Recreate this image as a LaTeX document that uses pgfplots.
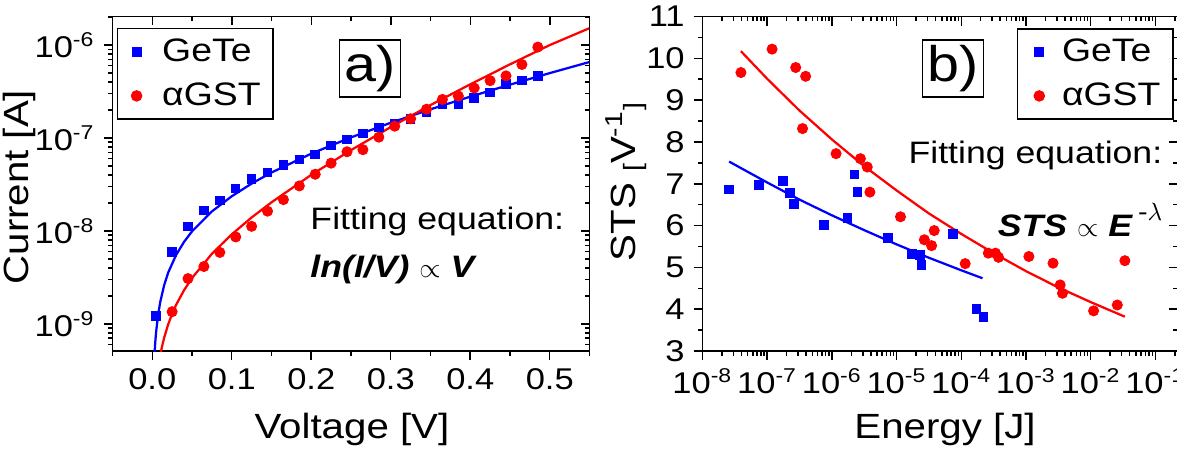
\documentclass[border=0pt]{standalone}
\usepackage{fontspec}
\setmainfont{Liberation Sans}[FakeStretch=1.15]
\usepackage{pgfplots}
\pgfplotsset{compat=1.18}
\definecolor{myblue}{RGB}{0,0,255}
\definecolor{myred}{RGB}{255,0,0}

\newcommand{\sps}[1]{\textsuperscript{#1}}
\newcommand{\lblfont}{\fontsize{14}{16}\selectfont}
\newcommand{\smallprop}{{\fontsize{10.5}{12}\selectfont$\propto$}}

\pgfplotsset{
  mybase/.style={
    scale only axis,
    axis line style={line width=0.7pt},
    every tick/.style={line width=0.6pt, black},
    major tick length=3.6pt, minor tick length=1.9pt,
    /pgf/number format/assume math mode=true,
    ticklabel style={font=\fontsize{12}{14}\selectfont},
  },
  mylegend/.style={
    legend style={at={(axis description cs:#1,0.9656)}, anchor=north west,
      draw=black, line width=0.6pt, fill=white,
      font=\fontsize{13}{15}\selectfont, inner xsep=3pt, inner ysep=2pt,
      row sep=3pt, cells={anchor=west}},
  },
  getemark/.style={only marks, mark=square*, mark size=1.7pt, color=myblue},
  gstmark/.style={only marks, mark=*, mark size=2pt, color=myred},
}

\begin{document}
\begin{tikzpicture}
% ---------------- panel a (top/right inward ticks) ----------------
\begin{axis}[mybase, at={(45pt,43.6pt)}, anchor=south west, width=190.8pt, height=133.8pt,
    xmin=-0.05, xmax=0.55, ymode=log, ymin=5.1e-10, ymax=2.03e-6,
    xtick={0,0.1,0.2,0.3,0.4,0.5},
    minor xtick={-0.05,0.05,0.15,0.25,0.35,0.45,0.55},
    ytick={1e-9,1e-8,1e-7,1e-6},
    minor ytick={6e-10,7e-10,8e-10,9e-10,2e-9,3e-9,4e-9,5e-9,6e-9,7e-9,8e-9,9e-9,
      2e-8,3e-8,4e-8,5e-8,6e-8,7e-8,8e-8,9e-8,2e-7,3e-7,4e-7,5e-7,6e-7,7e-7,8e-7,9e-7,2e-6},
    tick align=inside, xtick pos=right, ytick pos=right,
    xticklabels={}, yticklabels={}]
\end{axis}
% ---------------- panel a main ----------------
\begin{axis}[mybase, at={(45pt,43.6pt)}, anchor=south west, width=190.8pt, height=133.8pt,
    xmin=-0.05, xmax=0.55, ymode=log, ymin=5.1e-10, ymax=2.03e-6,
    xtick={0,0.1,0.2,0.3,0.4,0.5},
    minor xtick={-0.05,0.05,0.15,0.25,0.35,0.45,0.55},
    ytick={1e-9,1e-8,1e-7,1e-6},
    minor ytick={6e-10,7e-10,8e-10,9e-10,2e-9,3e-9,4e-9,5e-9,6e-9,7e-9,8e-9,9e-9,
      2e-8,3e-8,4e-8,5e-8,6e-8,7e-8,8e-8,9e-8,2e-7,3e-7,4e-7,5e-7,6e-7,7e-7,8e-7,9e-7,2e-6},
    tick align=outside, xtick pos=left, ytick pos=left,
    xticklabels={0.0,0.1,0.2,0.3,0.4,0.5},
    yticklabels={10\sps{-9},10\sps{-8},10\sps{-7},10\sps{-6}},
    xlabel={Voltage [V]}, ylabel={Current [A]},
    every axis x label/.style={at={(axis description cs:0.502,-0.236)}, anchor=center, font=\lblfont},
    every axis y label/.style={at={(axis description cs:-0.196,0.49)}, rotate=90, anchor=center, font=\lblfont},
    mylegend=0.0094,
    legend image code/.code={\draw[#1] plot coordinates {(0.16cm,0cm)}; \path[draw=none,fill=none] (0cm,0cm) (0.45cm,0cm);},
]
\addplot[getemark] coordinates {
(0.005,1.21e-9) (0.025,5.93e-9) (0.045,1.12e-8) (0.065,1.66e-8) (0.085,2.13e-8)
(0.105,2.85e-8) (0.125,3.60e-8) (0.145,4.25e-8) (0.165,5.14e-8) (0.185,5.87e-8)
(0.205,6.65e-8) (0.225,8.26e-8) (0.245,9.68e-8) (0.265,1.12e-7) (0.285,1.29e-7)
(0.305,1.44e-7) (0.325,1.61e-7) (0.345,1.91e-7) (0.365,2.28e-7) (0.385,2.28e-7)
(0.405,2.71e-7) (0.425,3.07e-7) (0.445,3.81e-7) (0.465,4.18e-7) (0.485,4.66e-7)};
\addlegendentry{GeTe}
\addplot[gstmark] coordinates {
(0.025,1.35e-9) (0.045,3.07e-9) (0.065,4.14e-9) (0.085,5.87e-9) (0.105,8.61e-9)
(0.125,1.12e-8) (0.145,1.63e-8) (0.165,2.17e-8) (0.185,3.05e-8) (0.205,4.07e-8)
(0.225,5.36e-8) (0.245,7.11e-8) (0.265,7.48e-8) (0.285,1.02e-7) (0.305,1.34e-7)
(0.325,1.61e-7) (0.345,2.04e-7) (0.365,2.60e-7) (0.385,2.83e-7) (0.405,3.45e-7)
(0.425,4.14e-7) (0.445,4.66e-7) (0.465,6.18e-7) (0.485,9.51e-7)};
\addlegendentry{αGST}
\addplot[myblue, line width=0.9pt, forget plot] coordinates {
(0.0015,2.48e-10) (0.002,3.32e-10) (0.003,5.0e-10) (0.004,6.70e-10) (0.005,8.40e-10)
(0.0075,1.27e-9) (0.01,1.71e-9) (0.015,2.61e-9) (0.02,3.55e-9) (0.03,5.51e-9)
(0.04,7.62e-9) (0.05,9.88e-9) (0.075,1.62e-8) (0.1,2.36e-8) (0.125,3.23e-8)
(0.15,4.25e-8) (0.2,6.78e-8) (0.25,1.015e-7) (0.3,1.458e-7) (0.35,2.036e-7)
(0.4,2.785e-7) (0.45,3.75e-7) (0.5,4.99e-7) (0.55,6.57e-7)};
\addplot[myred, line width=0.9pt, forget plot] coordinates {
(0.008,3.58e-10) (0.01,4.55e-10) (0.012,5.55e-10) (0.015,7.10e-10) (0.02,9.84e-10)
(0.025,1.28e-9) (0.03,1.60e-9) (0.04,2.30e-9) (0.05,3.11e-9) (0.075,5.67e-9)
(0.1,9.18e-9) (0.125,1.395e-8) (0.15,2.03e-8) (0.2,4.01e-8) (0.25,7.40e-8)
(0.3,1.311e-7) (0.35,2.26e-7) (0.4,3.78e-7) (0.45,6.2e-7) (0.5,1.0e-6) (0.55,1.52e-6)};
\node[draw=black, line width=0.6pt, inner sep=2pt, font=\fontsize{20}{22}\selectfont]
  at (axis description cs:0.54,0.8445) {a)};
\node[anchor=west, font=\fontsize{12.4}{14}\selectfont, inner sep=0pt]
  at (axis description cs:0.414,0.3857) {Fitting equation:};
\node[anchor=west, font=\fontsize{12.4}{14}\selectfont, inner sep=0pt]
  at (axis description cs:0.414,0.2422) {\textbf{\textit{ln(I/V)}} \smallprop\ \textbf{\textit{V}}};
\end{axis}

% ---------------- panel b (top/right inward ticks) ----------------
\begin{axis}[mybase, at={(281pt,43.6pt)}, anchor=south west, width=190.2pt, height=133.8pt,
    xmode=log, xmin=1e-8, xmax=0.224, ymin=3, ymax=11,
    xtick={1e-8,1e-7,1e-6,1e-5,1e-4,1e-3,1e-2,1e-1},
    minor xtick={2e-8,3e-8,4e-8,5e-8,6e-8,7e-8,8e-8,9e-8,2e-7,3e-7,4e-7,5e-7,6e-7,7e-7,8e-7,9e-7,
      2e-6,3e-6,4e-6,5e-6,6e-6,7e-6,8e-6,9e-6,2e-5,3e-5,4e-5,5e-5,6e-5,7e-5,8e-5,9e-5,
      2e-4,3e-4,4e-4,5e-4,6e-4,7e-4,8e-4,9e-4,2e-3,3e-3,4e-3,5e-3,6e-3,7e-3,8e-3,9e-3,
      2e-2,3e-2,4e-2,5e-2,6e-2,7e-2,8e-2,9e-2,2e-1},
    ytick={3,4,5,6,7,8,9,10,11},
    minor ytick={3.5,4.5,5.5,6.5,7.5,8.5,9.5,10.5},
    tick align=inside, xtick pos=right, ytick pos=right,
    xticklabels={}, yticklabels={}]
\end{axis}
% ---------------- panel b main ----------------
\begin{axis}[mybase, at={(281pt,43.6pt)}, anchor=south west, width=190.2pt, height=133.8pt,
    xmode=log, xmin=1e-8, xmax=0.224, ymin=3, ymax=11,
    xtick={1e-8,1e-7,1e-6,1e-5,1e-4,1e-3,1e-2,1e-1},
    minor xtick={2e-8,3e-8,4e-8,5e-8,6e-8,7e-8,8e-8,9e-8,2e-7,3e-7,4e-7,5e-7,6e-7,7e-7,8e-7,9e-7,
      2e-6,3e-6,4e-6,5e-6,6e-6,7e-6,8e-6,9e-6,2e-5,3e-5,4e-5,5e-5,6e-5,7e-5,8e-5,9e-5,
      2e-4,3e-4,4e-4,5e-4,6e-4,7e-4,8e-4,9e-4,2e-3,3e-3,4e-3,5e-3,6e-3,7e-3,8e-3,9e-3,
      2e-2,3e-2,4e-2,5e-2,6e-2,7e-2,8e-2,9e-2,2e-1},
    ytick={3,4,5,6,7,8,9,10,11},
    minor ytick={3.5,4.5,5.5,6.5,7.5,8.5,9.5,10.5},
    tick align=outside, xtick pos=left, ytick pos=left,
    xticklabels={10\sps{-8},10\sps{-7},10\sps{-6},10\sps{-5},10\sps{-4},10\sps{-3},10\sps{-2},10\sps{-1}},
    yticklabels={3,4,5,6,7,8,9,10,11},
    xlabel={Energy [J]},
    ylabel={STS \raisebox{-0.3ex}{\fontsize{10}{12}\selectfont[}V\sps{-1}\raisebox{-0.3ex}{\fontsize{10}{12}\selectfont]}},
    every axis x label/.style={at={(axis description cs:0.51,-0.236)}, anchor=center, font=\lblfont},
    every axis y label/.style={at={(axis description cs:-0.161,0.505)}, rotate=90, anchor=center, font=\lblfont},
    mylegend=0.661,
    legend image code/.code={\draw[#1] plot coordinates {(0.2cm,0cm)}; \path[draw=none,fill=none] (0cm,0cm) (0.45cm,0cm);},
]
\addplot[getemark] coordinates {
(2.58e-8,6.86) (7.52e-8,6.97) (1.77e-7,7.06) (2.25e-7,6.78) (2.58e-7,6.52)
(7.52e-7,6.01) (1.74e-6,6.18) (2.25e-6,7.22) (2.51e-6,6.80) (7.43e-6,5.70)
(1.72e-5,5.32) (2.29e-5,5.30) (2.44e-5,5.06) (7.43e-5,5.80) (1.72e-4,4.00)
(2.19e-4,3.81)};
\addlegendentry{GeTe}
\addplot[gstmark] coordinates {
(3.93e-8,9.66) (1.19e-7,10.22) (2.76e-7,9.78) (3.93e-7,9.57) (3.52e-7,8.32)
(1.16e-6,7.72) (2.76e-6,7.60) (3.52e-6,7.40) (3.87e-6,6.80) (1.15e-5,6.21)
(2.69e-5,5.66) (3.48e-5,5.52) (3.82e-5,5.88) (1.15e-4,5.09) (2.62e-4,5.34)
(3.38e-4,5.34) (3.77e-4,5.24) (1.11e-3,5.26) (2.62e-3,5.10) (3.38e-3,4.58)
(3.67e-3,4.38) (1.11e-2,3.96) (2.58e-2,4.10) (3.38e-2,5.16)};
\addlegendentry{αGST}
\addplot[myblue, line width=0.9pt, forget plot] coordinates {
(2.58e-8,7.53) (1e-7,7.03) (3.16e-7,6.62) (1e-6,6.245) (3.16e-6,5.89)
(1e-5,5.55) (3.16e-5,5.23) (1e-4,4.93) (2.13e-4,4.74)};
\addplot[myred, line width=0.9pt, forget plot] coordinates {
(3.93e-8,10.17) (1e-7,9.51) (3.16e-7,8.75) (1e-6,8.06) (3.16e-6,7.42)
(1e-5,6.84) (3.16e-5,6.29) (1e-4,5.80) (3.16e-4,5.34) (1e-3,4.91)
(3.16e-3,4.52) (1e-2,4.17) (3.38e-2,3.82)};
\node[draw=black, line width=0.6pt, inner sep=2pt, font=\fontsize{20}{22}\selectfont]
  at (axis description cs:0.527,0.8445) {b)};
\node[anchor=east, font=\fontsize{12.4}{14}\selectfont, inner sep=0pt]
  at (axis description cs:0.968,0.586) {Fitting equation:};
\node[anchor=east, font=\fontsize{12.4}{14}\selectfont, inner sep=0pt]
  at (axis description cs:0.968,0.392) {\textbf{\textit{STS}} \smallprop\ \textbf{\textit{E}}\,{\fontsize{10}{12}\selectfont\raisebox{1.2ex}{-$\lambda$}}};
\end{axis}

\pgfresetboundingbox
\path[use as bounding box] (0,0) rectangle (470.8pt,184pt);
\end{tikzpicture}
\end{document}
